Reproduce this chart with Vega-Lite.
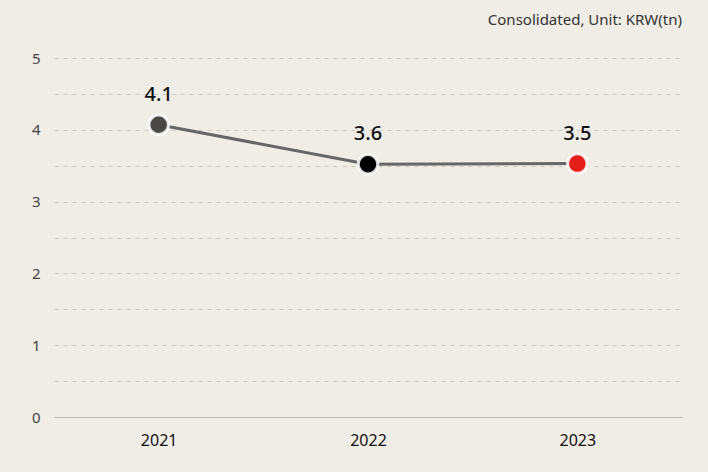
{
  "$schema": "https://vega.github.io/schema/vega-lite/v6.json",
  "width": 628,
  "height": 359,
  "autosize": {"type": "none"},
  "padding": {"left": 54, "top": 58, "right": 26, "bottom": 55},
  "background": "#f0ece6",
  "config": {
    "view": {"stroke": null},
    "font": "Noto Sans"
  },
  "title": {
    "text": "Consolidated, Unit: KRW(tn)",
    "anchor": "end",
    "fontSize": 15,
    "fontWeight": "normal",
    "color": "#333333",
    "offset": 23
  },
  "data": {
    "values": [
      {"year": "2021", "value": 4.07, "label": "4.1", "color": "c2021"},
      {"year": "2022", "value": 3.52, "label": "3.6", "color": "c2022"},
      {"year": "2023", "value": 3.53, "label": "3.5", "color": "c2023"}
    ]
  },
  "encoding": {
    "x": {
      "field": "year",
      "type": "ordinal",
      "scale": {"type": "point", "padding": 0.5},
      "axis": {
        "title": null,
        "labelAngle": 0,
        "ticks": false,
        "domain": true,
        "domainColor": "#bdb9b3",
        "domainWidth": 1,
        "labelFontSize": 16,
        "labelColor": "#111111",
        "labelPadding": 15
      }
    },
    "y": {
      "field": "value",
      "type": "quantitative",
      "scale": {"domain": [0, 5]},
      "axis": {
        "title": null,
        "values": [0, 0.5, 1, 1.5, 2, 2.5, 3, 3.5, 4, 4.5, 5],
        "labelExpr": "datum.value % 1 === 0 ? format(datum.value, 'd') : ''",
        "ticks": false,
        "domain": false,
        "gridColor": "#cbc7c1",
        "gridDash": [4, 5],
        "gridWidth": 1,
        "labelFontSize": 15,
        "labelColor": "#444444",
        "labelPadding": 14
      }
    }
  },
  "layer": [
    {
      "mark": {"type": "line", "color": "#666666", "strokeWidth": 3}
    },
    {
      "mark": {"type": "point", "filled": true, "size": 380, "stroke": "#ffffff", "strokeWidth": 3, "opacity": 1, "strokeOpacity": 0.85},
      "encoding": {
        "color": {
          "field": "color",
          "type": "nominal",
          "scale": {"domain": ["c2021", "c2022", "c2023"], "range": ["#4a4744", "#000000", "#e61e1a"]},
          "legend": null
        }
      }
    },
    {
      "mark": {"type": "text", "dy": -30, "fontSize": 20, "fontWeight": 500, "color": "#111111"},
      "encoding": {"text": {"field": "label"}}
    }
  ]
}
